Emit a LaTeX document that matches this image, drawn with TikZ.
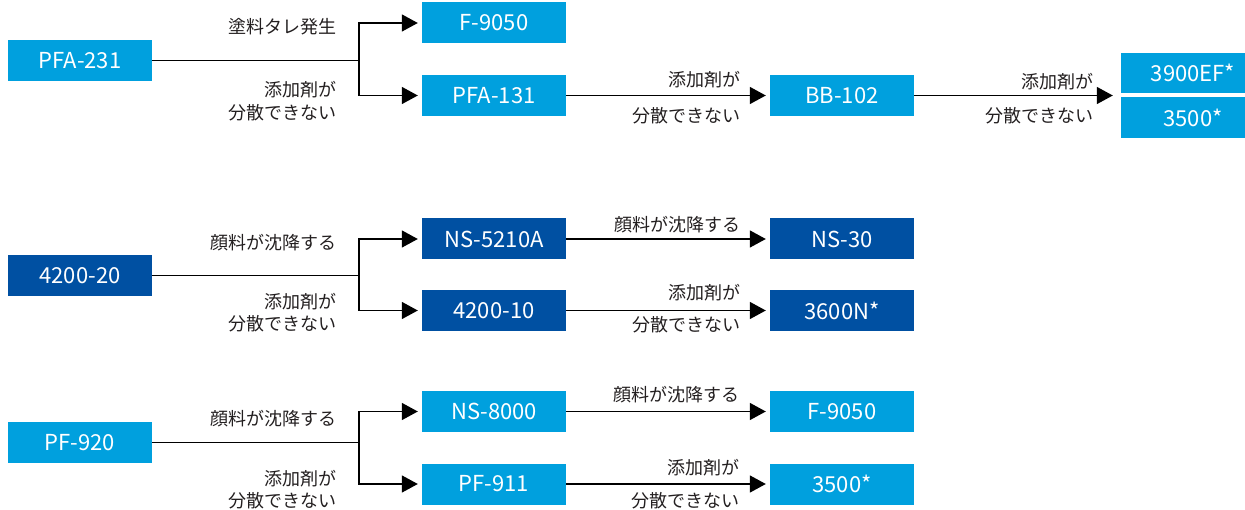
\documentclass[tikz,border=0pt]{standalone}
\usepackage{fontspec}
\setmainfont{Noto Sans CJK JP}
\usetikzlibrary{arrows.meta,calc}
\definecolor{lblue}{RGB}{0,160,222}
\definecolor{dblue}{RGB}{0,80,162}
\definecolor{labgray}{RGB}{35,31,32}
\tikzset{
  lb/.style={fill=lblue, text=white, minimum width=144pt, minimum height=41pt, inner sep=0pt, font=\fontsize{22}{26}\selectfont},
  db/.style={lb, fill=dblue},
  lab/.style={font=\fontsize{18}{22.5}\selectfont, text=labgray, inner sep=0pt, align=right, anchor=east},
  conn/.style={line width=1.5pt, draw=black},
  arr/.style={conn, -{Triangle[length=16pt,width=17pt]}, shorten >=4pt}
}
\begin{document}
\begin{tikzpicture}[x=1pt,y=-1pt]
\useasboundingbox (0,0) rectangle (1245,510);
\clip (0,0) rectangle (1245,510);
% ---------- row 1 ----------
\node[lb] (a1) at (80,60.5) {PFA-231};
\node[lb] (a2) at (494,23) {F-9050};
\node[lb] (a3) at (494,95.5) {PFA-131};
\node[lb] (a4) at (842,95.5) {BB-102};
\node[lb, minimum height=40pt] (a5) at (1193,73) {3900EF*};
\node[lb, minimum height=41pt] (a6) at (1193,117.5) {3500*};
\coordinate (s1) at (359,60.5);
\coordinate (m1) at ($(a5.south west)!0.5!(a6.north west)$);
\draw[conn] (a1.east) -- (s1);
\draw[arr] (s1) |- (a2.west);
\draw[arr] (s1) |- (a3.west);
\draw[arr] (a3.east) -- (a4.west);
\draw[arr, shorten >=8pt] (a4.east) -- (a4.east -| m1);
\node[lab] (l1) at (337,27) {塗料タレ発生};
\node[lab] (l2) at (337,101) {添加剤が\\分散できない};
\node[lab] (l3) at (741,80) {添加剤が};
\node[lab] (l4) at (741,116) {分散できない};
\node[lab] (l5) at (1094,82) {添加剤が};
\node[lab] (l6) at (1094,116) {分散できない};
% ---------- row 2 ----------
\node[db] (b1) at (80,275.5) {4200-20};
\node[db] (b2) at (494,239) {NS-5210A};
\node[db] (b3) at (494,310.5) {4200-10};
\node[db] (b4) at (842,239) {NS-30};
\node[db] (b5) at (842,310.5) {3600N*};
\coordinate (s2) at (359,275.5);
\draw[conn] (b1.east) -- (s2);
\draw[arr] (s2) |- (b2.west);
\draw[arr] (s2) |- (b3.west);
\draw[arr] (b2.east) -- (b4.west);
\draw[arr] (b3.east) -- (b5.west);
\node[lab] (k1) at (337,243) {顔料が沈降する};
\node[lab] (k2) at (337,312.5) {添加剤が\\分散できない};
\node[lab] (k3) at (741,225) {顔料が沈降する};
\node[lab] (k4) at (741,293) {添加剤が};
\node[lab] (k5) at (741,325) {分散できない};
% ---------- row 3 ----------
\node[lb] (c1) at (80,442.5) {PF-920};
\node[lb] (c2) at (494,411.5) {NS-8000};
\node[lb] (c3) at (494,484) {PF-911};
\node[lb] (c4) at (842,411.5) {F-9050};
\node[lb] (c5) at (842,484) {3500*};
\coordinate (s3) at (359,442.5);
\draw[conn] (c1.east) -- (s3);
\draw[arr] (s3) |- (c2.west);
\draw[arr] (s3) |- (c3.west);
\draw[arr] (c2.east) -- (c4.west);
\draw[arr] (c3.east) -- (c5.west);
\node[lab] (j1) at (337,419) {顔料が沈降する};
\node[lab] (j2) at (337,489.5) {添加剤が\\分散できない};
\node[lab] (j3) at (740,395) {顔料が沈降する};
\node[lab] (j4) at (740,468) {添加剤が};
\node[lab] (j5) at (740,501) {分散できない};
\end{tikzpicture}
\end{document}
